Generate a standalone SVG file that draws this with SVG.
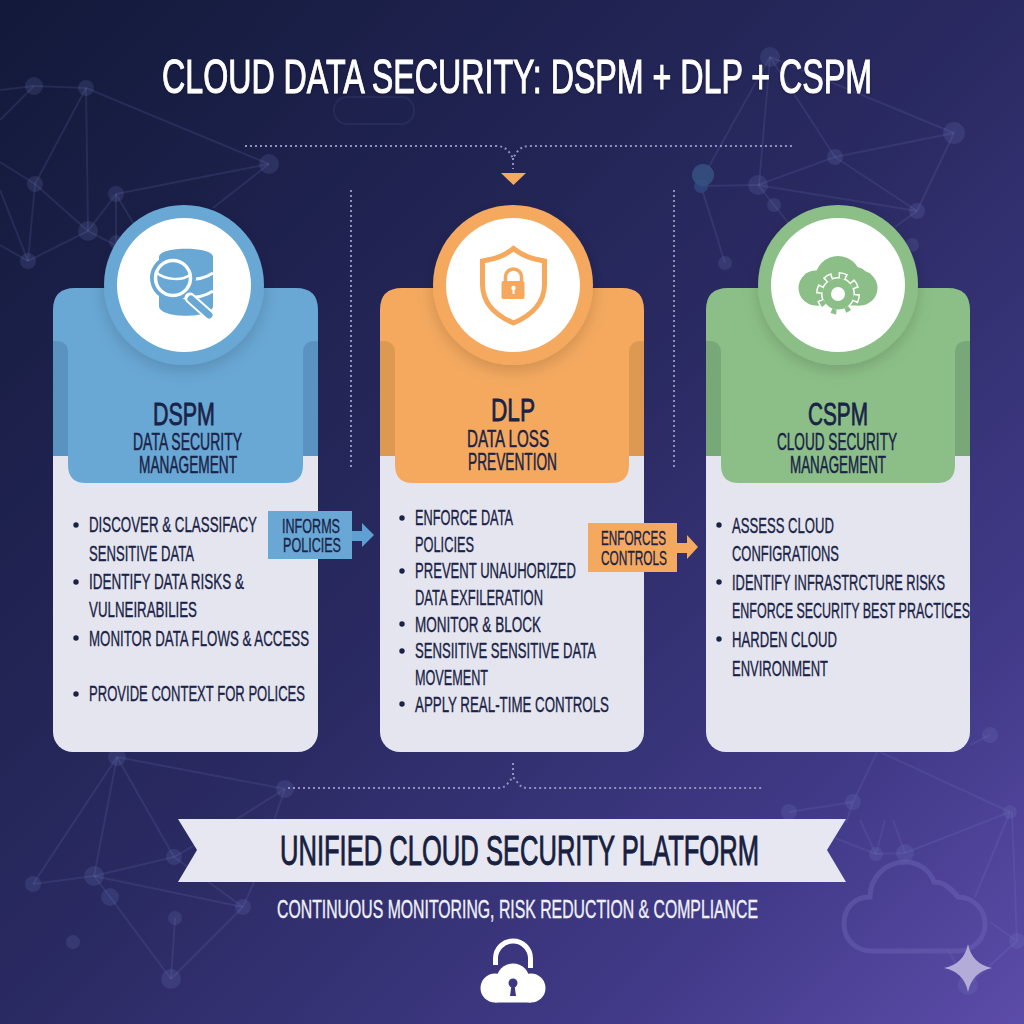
<svg xmlns="http://www.w3.org/2000/svg" width="1024" height="1024" viewBox="0 0 1024 1024">
<style>
text{font-family:"Liberation Sans Narrow","Liberation Sans",Arial,sans-serif;fill:#1a2347;stroke:#1a2347;stroke-width:.35px}
.title{font-size:48px;fill:#fff;stroke:#fff;stroke-width:1px}
.h1{font-size:32px;stroke-width:.8px}
.h2{font-size:24px;stroke-width:.5px}
.li{font-size:22px}
.tag{font-size:21px}
.ban{font-size:42px;fill:#17203f;stroke:#17203f;stroke-width:.9px}
.sub{font-size:25px;fill:#f0f0f7;stroke:#f0f0f7;stroke-width:.4px}
.net line{stroke:#7d86c8;stroke-opacity:.15;stroke-width:2}
.net circle{fill:#7d86c8;fill-opacity:.17}
.dot{fill:none;stroke:#8f92bd;stroke-width:2;stroke-dasharray:2 3}
.body{fill:#e4e5ee}
.white{fill:#fff}
.bul{fill:#1a2347}
</style>
<defs>
<linearGradient id="bg" x1="0" y1="0" x2="1" y2="1">
<stop offset="0" stop-color="#121939"/><stop offset=".5" stop-color="#2a2a62"/><stop offset=".8" stop-color="#413a88"/><stop offset="1" stop-color="#5c4ca9"/>
</linearGradient>
<filter id="sh" x="-30%" y="-30%" width="160%" height="160%"><feDropShadow dx="0" dy="5" stdDeviation="8" flood-color="#000" flood-opacity=".16"/></filter>
<filter id="ts" x="-5%" y="-30%" width="110%" height="160%"><feDropShadow dx="0" dy="1" stdDeviation="1.5" flood-color="#000" flood-opacity=".3"/></filter>
</defs>
<rect width="1024" height="1024" fill="url(#bg)"/>
<g id="background-network" class="net">
<line x1="0" y1="90" x2="34" y2="86"/><line x1="34" y1="86" x2="86" y2="88"/><line x1="34" y1="86" x2="0" y2="120"/><line x1="86" y1="88" x2="88" y2="231"/><line x1="86" y1="88" x2="35" y2="184"/><line x1="86" y1="88" x2="269" y2="164"/><line x1="35" y1="184" x2="0" y2="162"/><line x1="35" y1="184" x2="88" y2="231"/><line x1="35" y1="184" x2="28" y2="261"/><line x1="0" y1="190" x2="28" y2="261"/><line x1="0" y1="245" x2="28" y2="261"/><line x1="88" y1="231" x2="28" y2="261"/><line x1="88" y1="231" x2="116" y2="194"/><line x1="116" y1="194" x2="269" y2="164"/><line x1="269" y1="164" x2="213" y2="208"/><line x1="116" y1="194" x2="136" y2="228"/><line x1="116" y1="194" x2="116" y2="245"/><line x1="88" y1="231" x2="125" y2="250"/>
<circle cx="34" cy="86" r="9"/><circle cx="86" cy="88" r="8"/><circle cx="35" cy="184" r="8"/><circle cx="88" cy="231" r="10"/><circle cx="116" cy="194" r="8"/><circle cx="28" cy="261" r="8"/><circle cx="269" cy="164" r="10"/><circle cx="116" cy="242" r="7"/>
<line x1="770" y1="57" x2="703" y2="177"/><line x1="770" y1="57" x2="759" y2="185"/><line x1="770" y1="57" x2="835" y2="157"/><line x1="770" y1="57" x2="954" y2="133"/><line x1="701" y1="186" x2="758" y2="185"/><line x1="701" y1="186" x2="725" y2="263"/><line x1="758" y1="185" x2="835" y2="157"/><line x1="835" y1="157" x2="954" y2="133"/><line x1="835" y1="157" x2="917" y2="211"/><line x1="758" y1="185" x2="917" y2="211"/><line x1="758" y1="185" x2="794" y2="230"/><line x1="954" y1="133" x2="917" y2="211"/><line x1="917" y1="211" x2="895" y2="227"/>
<circle cx="770" cy="57" r="10"/><circle cx="758" cy="185" r="10"/><circle cx="835" cy="157" r="8"/><circle cx="954" cy="133" r="11"/><circle cx="917" cy="211" r="8"/><circle cx="774" cy="205" r="7"/><circle cx="725" cy="263" r="7"/><circle cx="912" cy="245" r="7"/>
<circle cx="701" cy="186" r="7" style="fill:#2f4a80;fill-opacity:.8"/><circle cx="703" cy="175" r="11" style="fill:#35507f;fill-opacity:.9"/>
<line x1="117" y1="757" x2="285" y2="789"/><line x1="117" y1="757" x2="33" y2="884"/><line x1="117" y1="757" x2="94" y2="876"/><line x1="117" y1="757" x2="174" y2="857"/><line x1="33" y1="884" x2="94" y2="876"/><line x1="94" y1="876" x2="174" y2="857"/><line x1="94" y1="876" x2="243" y2="907"/><line x1="94" y1="876" x2="110" y2="897"/><line x1="110" y1="897" x2="171" y2="979"/><line x1="175" y1="918" x2="171" y2="979"/><line x1="171" y1="979" x2="243" y2="907"/><line x1="285" y1="789" x2="235" y2="820"/><line x1="285" y1="789" x2="274" y2="820"/><line x1="174" y1="857" x2="195" y2="845"/><line x1="174" y1="857" x2="243" y2="907"/><line x1="243" y1="907" x2="254" y2="882"/>
<circle cx="117" cy="757" r="9"/><circle cx="285" cy="789" r="9"/><circle cx="33" cy="884" r="8"/><circle cx="94" cy="876" r="10"/><circle cx="174" cy="857" r="8"/><circle cx="110" cy="897" r="9"/><circle cx="243" cy="907" r="8"/><circle cx="175" cy="918" r="7"/><circle cx="73" cy="942" r="7"/><circle cx="171" cy="979" r="10"/>
<line x1="789" y1="812" x2="853" y2="802"/><line x1="853" y1="802" x2="846" y2="823"/><line x1="877" y1="752" x2="853" y2="802"/><line x1="880" y1="752" x2="1010" y2="812"/><line x1="835" y1="838" x2="876" y2="854"/><line x1="860" y1="820" x2="876" y2="854"/><line x1="885" y1="820" x2="876" y2="854"/><line x1="893" y1="820" x2="905" y2="853"/><line x1="876" y1="854" x2="905" y2="853"/><line x1="905" y1="853" x2="1010" y2="812"/><line x1="1010" y1="812" x2="975" y2="897"/><line x1="1012" y1="812" x2="1017" y2="941"/><line x1="1017" y1="941" x2="990" y2="922"/><line x1="1017" y1="941" x2="968" y2="985"/><line x1="948" y1="950" x2="968" y2="985"/><line x1="970" y1="745" x2="990" y2="735"/>
<circle cx="789" cy="812" r="8"/><circle cx="853" cy="802" r="8"/><circle cx="876" cy="854" r="7"/><circle cx="905" cy="853" r="9"/><circle cx="1010" cy="812" r="7"/><circle cx="1017" cy="941" r="8"/><circle cx="968" cy="985" r="10"/><circle cx="990" cy="735" r="8"/>
<rect x="334" y="97" width="80" height="27" rx="13" fill="none" stroke="#7d86c8" stroke-opacity=".1" stroke-width="2"/>
<path d="M872 951H958A27 27 0 0 0 958 897C952 890 945 882 934 882C930 870 918 862 905 862C885 862 870 878 870 897C854 897 844 908 844 924C844 940 856 951 872 951Z" fill="none" stroke="#6a61b4" stroke-opacity=".5" stroke-width="5"/>
</g>
<g id="connectors">
<path class="dot" d="M245 146H496Q505 146 509 152L513 158L517 152Q521 146 530 146H795"/>
<path class="dot" d="M513 158V169"/>
<path d="M501 173H526L513.500 185Z" fill="#f4a95f"/>
<path class="dot" d="M351 190V467"/>
<path class="dot" d="M674 190V467"/>
<path class="dot" d="M288 788H498Q505 788 508 783L513 777L518 783Q521 788 528 788H763"/>
<path class="dot" d="M513 763V777"/>
</g>
<g id="node-dspm">
<rect class="body" x="53" y="430" width="265" height="322" rx="20"/>
<path d="M53 356V310Q53 288 75 288H296Q318 288 318 310V356H303V465Q303 483 285 483H86Q68 483 68 465V356Z" fill="#69a7d4"/>
<path d="M53 341H56Q68 341 68 353V456H53Z M318 341H315Q303 341 303 353V456H318Z" fill="#5a93bf"/>
<circle cx="184" cy="285" r="80" fill="#69a7d4" filter="url(#sh)"/>
<circle class="white" cx="184" cy="285" r="67"/>
<g id="icon-dspm">
<path d="M159 257C159 246 213 246 213 257V306C213 319 159 319 159 306Z" fill="#69a7d4"/>
<path d="M159 273C172 282 200 282 213 273M159 291C172 300 200 300 213 291" fill="none" stroke="#fff" stroke-width="3"/>
<circle cx="173" cy="278" r="23" fill="#69a7d4"/>
<circle cx="173" cy="278" r="17.500" fill="#69a7d4" stroke="#fff" stroke-width="3.500"/>
<path d="M157 273C165 280 182 281 190 275" fill="none" stroke="#fff" stroke-width="2.500"/>
<path d="M190 298L209 315" stroke="#fff" stroke-width="11" stroke-linecap="round"/>
<path d="M191 299L209 315" stroke="#69a7d4" stroke-width="7" stroke-linecap="round"/>
</g>
<text class="h1" x="153" y="425" textLength="62" lengthAdjust="spacingAndGlyphs">DSPM</text>
<text class="h2" x="133" y="450" textLength="109" lengthAdjust="spacingAndGlyphs">DATA SECURITY</text>
<text class="h2" x="139" y="473" textLength="98" lengthAdjust="spacingAndGlyphs">MANAGEMENT</text>
<circle class="bul" cx="76" cy="525" r="2.700"/><circle class="bul" cx="76" cy="582" r="2.700"/><circle class="bul" cx="76" cy="638" r="2.700"/><circle class="bul" cx="76" cy="694" r="2.700"/>
<text class="li" x="89" y="532" textLength="168" lengthAdjust="spacingAndGlyphs">DISCOVER &amp; CLASSIFACY</text>
<text class="li" x="89" y="561" textLength="105" lengthAdjust="spacingAndGlyphs">SENSITIVE DATA</text>
<text class="li" x="89" y="589" textLength="155" lengthAdjust="spacingAndGlyphs">IDENTIFY DATA RISKS &amp;</text>
<text class="li" x="89" y="617" textLength="108" lengthAdjust="spacingAndGlyphs">VULNEIRABILIES</text>
<text class="li" x="89" y="646" textLength="220" lengthAdjust="spacingAndGlyphs">MONITOR DATA FLOWS &amp; ACCESS</text>
<text class="li" x="89" y="701" textLength="216" lengthAdjust="spacingAndGlyphs">PROVIDE CONTEXT FOR POLICES</text>
</g>
<g id="node-dlp">
<rect class="body" x="380" y="430" width="264" height="322" rx="20"/>
<path d="M380 356V310Q380 288 402 288H622Q644 288 644 310V356H629V465Q629 483 611 483H413Q395 483 395 465V356Z" fill="#f4a95f"/>
<path d="M380 341H383Q395 341 395 353V456H380Z M644 341H641Q629 341 629 353V456H644Z" fill="#dd9852"/>
<circle cx="513" cy="285" r="80" fill="#f4a95f" filter="url(#sh)"/>
<circle class="white" cx="513" cy="285" r="67"/>
<g id="icon-dlp">
<path d="M513.500 248.500C503 257 494 259 482.500 261V285C483 305 497 316 513.500 323C530 316 544 305 544.500 285V261C533 259 524 257 513.500 248.500Z" fill="none" stroke="#f4a95f" stroke-width="5"/>
<path d="M505.500 282V277A8 8 0 0 1 521.500 277V282" fill="none" stroke="#f4a95f" stroke-width="3.500"/>
<rect x="501.500" y="281" width="23" height="18" rx="2" fill="#f4a95f"/>
<circle class="white" cx="513.500" cy="288" r="2.200"/><rect class="white" x="512.500" y="288" width="2" height="6"/>
</g>
<text class="h1" x="491" y="421" textLength="44" lengthAdjust="spacingAndGlyphs">DLP</text>
<text class="h2" x="467" y="447" textLength="82" lengthAdjust="spacingAndGlyphs">DATA LOSS</text>
<text class="h2" x="468" y="470" textLength="89" lengthAdjust="spacingAndGlyphs">PREVENTION</text>
<circle class="bul" cx="402" cy="518" r="2.700"/><circle class="bul" cx="402" cy="571" r="2.700"/><circle class="bul" cx="402" cy="624" r="2.700"/><circle class="bul" cx="402" cy="651" r="2.700"/><circle class="bul" cx="402" cy="704" r="2.700"/>
<text class="li" x="415" y="525" textLength="98" lengthAdjust="spacingAndGlyphs">ENFORCE DATA</text>
<text class="li" x="415" y="552" textLength="59" lengthAdjust="spacingAndGlyphs">POLICIES</text>
<text class="li" x="415" y="578" textLength="161" lengthAdjust="spacingAndGlyphs">PREVENT UNAUHORIZED</text>
<text class="li" x="415" y="605" textLength="128" lengthAdjust="spacingAndGlyphs">DATA EXFILERATION</text>
<text class="li" x="415" y="632" textLength="126" lengthAdjust="spacingAndGlyphs">MONITOR &amp; BLOCK</text>
<text class="li" x="415" y="658" textLength="181" lengthAdjust="spacingAndGlyphs">SENSIITIVE SENSITIVE DATA</text>
<text class="li" x="415" y="685" textLength="73" lengthAdjust="spacingAndGlyphs">MOVEMENT</text>
<text class="li" x="415" y="712" textLength="194" lengthAdjust="spacingAndGlyphs">APPLY REAL-TIME CONTROLS</text>
</g>
<g id="node-cspm">
<rect class="body" x="706" y="430" width="264" height="322" rx="20"/>
<path d="M706 356V310Q706 288 728 288H948Q970 288 970 310V356H955V465Q955 483 937 483H739Q721 483 721 465V356Z" fill="#8cbf87"/>
<path d="M706 341H709Q721 341 721 353V456H706Z M970 341H967Q955 341 955 353V456H970Z" fill="#78a878"/>
<circle cx="838" cy="285" r="80" fill="#8cbf87" filter="url(#sh)"/>
<circle class="white" cx="838" cy="285" r="67"/>
<g id="icon-cspm" fill="#8cbf87">
<circle cx="816" cy="288" r="17.500"/><circle cx="838" cy="279" r="23"/><circle cx="855" cy="282" r="15"/><circle cx="860" cy="288" r="17.500"/><rect x="816" y="285" width="44" height="20.500"/>
<circle class="white" cx="838" cy="294" r="17"/>
<circle cx="838" cy="294" r="18" fill="none" stroke="#fff" stroke-width="8" stroke-dasharray="8 6.137"/>
<circle cx="838" cy="294" r="18" fill="none" stroke="#8cbf87" stroke-width="5" stroke-dasharray="5 9.137" stroke-dashoffset="-1.500"/>
<circle cx="838" cy="294" r="15.500"/>
<circle class="white" cx="838" cy="294" r="7"/>
</g>
<text class="h1" x="808" y="425" textLength="60" lengthAdjust="spacingAndGlyphs">CSPM</text>
<text class="h2" x="777" y="450" textLength="120" lengthAdjust="spacingAndGlyphs">CLOUD SECURITY</text>
<text class="h2" x="790" y="473" textLength="96" lengthAdjust="spacingAndGlyphs">MANAGEMENT</text>
<circle class="bul" cx="719" cy="525" r="2.700"/><circle class="bul" cx="719" cy="582" r="2.700"/><circle class="bul" cx="719" cy="639" r="2.700"/>
<text class="li" x="732" y="533" textLength="102" lengthAdjust="spacingAndGlyphs">ASSESS CLOUD</text>
<text class="li" x="732" y="561" textLength="107" lengthAdjust="spacingAndGlyphs">CONFIGRATIONS</text>
<text class="li" x="732" y="590" textLength="213" lengthAdjust="spacingAndGlyphs">IDENTIFY INFRASTRCTURE RISKS</text>
<text class="li" x="732" y="618" textLength="238" lengthAdjust="spacingAndGlyphs">ENFORCE SECURITY BEST PRACTICES</text>
<text class="li" x="732" y="647" textLength="105" lengthAdjust="spacingAndGlyphs">HARDEN CLOUD</text>
<text class="li" x="732" y="676" textLength="96" lengthAdjust="spacingAndGlyphs">ENVIRONMENT</text>
</g>
<g id="connector-informs">
<path d="M352 531H362V523L374 535L362 547V541H352Z" fill="#5fa0d2"/>
<rect x="268" y="511" width="84" height="48" fill="#69a7d4"/>
<text class="tag" x="282" y="533" textLength="58" lengthAdjust="spacingAndGlyphs">INFORMS</text>
<text class="tag" x="283" y="552" textLength="58" lengthAdjust="spacingAndGlyphs">POLICIES</text>
</g>
<g id="connector-enforces">
<path d="M677 543H687V535L698 547L687 559V553H677Z" fill="#f4a95f"/>
<rect x="588" y="523" width="89" height="49" fill="#f4a95f"/>
<text class="tag" x="601" y="545" textLength="65" lengthAdjust="spacingAndGlyphs">ENFORCES</text>
<text class="tag" x="601" y="565" textLength="66" lengthAdjust="spacingAndGlyphs">CONTROLS</text>
</g>
<text id="title" class="title" x="162" y="93" textLength="710" lengthAdjust="spacingAndGlyphs" filter="url(#ts)">CLOUD DATA SECURITY: DSPM + DLP + CSPM</text>
<g id="node-platform">
<path d="M178 819H846L827 850L846 882H178L197 850Z" fill="#e6e7f0"/>
<text class="ban" x="280" y="865" textLength="479" lengthAdjust="spacingAndGlyphs">UNIFIED CLOUD SECURITY PLATFORM</text>
<text class="sub" x="277" y="918" textLength="481" lengthAdjust="spacingAndGlyphs">CONTINUOUS MONITORING, RISK REDUCTION &amp; COMPLIANCE</text>
<g id="icon-platform" fill="#fff">
<path d="M495.500 965V958.500A17.500 17.500 0 0 1 530.500 958.500V968" fill="none" stroke="#fff" stroke-width="5"/>
<circle cx="513" cy="980" r="18" fill="#3d3781"/>
<circle cx="495" cy="988" r="14.500"/><circle cx="513" cy="980" r="16.500"/><circle cx="531" cy="988" r="14.500"/><rect x="495" y="985" width="36" height="17.500"/>
<circle cx="513" cy="983" r="4.500" fill="#3d3781"/><path d="M511.500 985H514.500L516 996H510Z" fill="#3d3781"/>
</g>
</g>
<path id="sparkle" d="M968 944Q972 964 992 968Q972 972 968 992Q964 972 944 968Q964 964 968 944Z" fill="#b3acd9"/>
</svg>
